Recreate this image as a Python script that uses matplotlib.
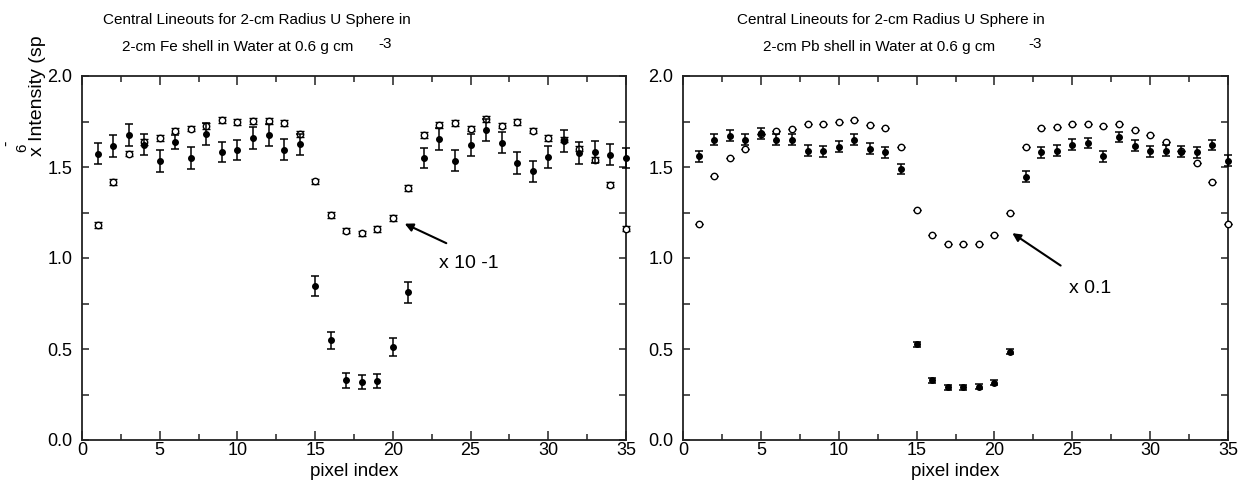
import numpy as np
import matplotlib
matplotlib.use("Agg")
import matplotlib.pyplot as plt
from matplotlib.ticker import MultipleLocator, FormatStrFormatter

plt.rcParams['font.family'] = ['Liberation Sans', 'DejaVu Sans']

pixel = np.arange(1, 36)

# Fe shell (left)
fe_filled = [1.574, 1.616, 1.678, 1.623, 1.535, 1.638, 1.55, 1.68, 1.583, 1.594,
             1.66, 1.676, 1.596, 1.625, 0.847, 0.548, 0.327, 0.318, 0.324, 0.511,
             0.811, 1.551, 1.653, 1.535, 1.62, 1.702, 1.634, 1.52, 1.476, 1.555,
             1.642, 1.577, 1.583, 1.568, 1.552]
fe_filled_err = [0.056, 0.06, 0.06, 0.059, 0.06, 0.04, 0.06, 0.06, 0.056, 0.055,
                 0.059, 0.059, 0.059, 0.059, 0.055, 0.046, 0.042, 0.04, 0.04, 0.048,
                 0.057, 0.056, 0.06, 0.056, 0.059, 0.06, 0.058, 0.06, 0.057, 0.058,
                 0.059, 0.06, 0.06, 0.059, 0.055]
fe_open = [1.182, 1.417, 1.574, 1.638, 1.66, 1.70, 1.711, 1.726, 1.757, 1.746,
           1.754, 1.752, 1.743, 1.682, 1.421, 1.237, 1.151, 1.136, 1.16, 1.219,
           1.384, 1.675, 1.73, 1.743, 1.711, 1.763, 1.728, 1.746, 1.70, 1.66,
           1.651, 1.601, 1.54, 1.403, 1.162]
fe_open_err = 0.015

# Pb shell (right)
pb_filled = [1.559, 1.649, 1.673, 1.649, 1.686, 1.649, 1.649, 1.59, 1.586, 1.612,
             1.649, 1.601, 1.581, 1.489, 0.526, 0.327, 0.29, 0.29, 0.292, 0.314,
             0.485, 1.447, 1.581, 1.59, 1.623, 1.632, 1.559, 1.665, 1.618, 1.586,
             1.59, 1.583, 1.581, 1.621, 1.535]
pb_filled_err = [0.03] * 14 + [0.013] * 7 + [0.03] * 14
pb_open = [1.189, 1.452, 1.548, 1.601, 1.684, 1.697, 1.71, 1.735, 1.739, 1.746,
           1.756, 1.733, 1.713, 1.61, 1.263, 1.129, 1.079, 1.075, 1.079, 1.129,
           1.248, 1.608, 1.717, 1.719, 1.739, 1.739, 1.724, 1.739, 1.704, 1.678,
           1.638, 1.59, 1.522, 1.415, 1.186]

W, H = 1241, 500


def fx(px):
    return px / W


def fy(py):
    return 1 - py / H


def style_axes(ax):
    ax.set_xlim(0, 35)
    ax.set_ylim(0, 2.0)
    ax.xaxis.set_major_locator(MultipleLocator(5))
    ax.xaxis.set_minor_locator(MultipleLocator(2.5))
    ax.yaxis.set_major_locator(MultipleLocator(0.5))
    ax.yaxis.set_minor_locator(MultipleLocator(0.25))
    ax.tick_params(which='both', direction='in', top=True, right=True,
                   width=1.1, color='#222222', labelsize=13)
    ax.tick_params(axis='x', which='major', length=6.5, pad=1.5)
    ax.tick_params(axis='x', which='minor', length=4.5)
    ax.tick_params(axis='y', which='both', length=5, pad=7)
    ax.yaxis.set_major_formatter(FormatStrFormatter('%.1f'))
    for s in ax.spines.values():
        s.set_linewidth(1.3)
        s.set_color('#222222')
    ax.set_xlabel('pixel index', fontsize=13.5, labelpad=3)


def draw_points(ax, filled, filled_err, opened, open_err):
    ax.errorbar(pixel, opened, yerr=open_err, fmt='o', ms=4.6, mfc='white',
                mec='black', mew=1.0, ecolor='black', elinewidth=0.9,
                capsize=2.6, capthick=1.0, clip_on=False, zorder=3)
    ax.errorbar(pixel, filled, yerr=filled_err, fmt='o', ms=4.0, mfc='black',
                mec='black', ecolor='black', elinewidth=1.1,
                capsize=3, capthick=1.1, clip_on=False, zorder=4)


fig = plt.figure(figsize=(W / 100, H / 100), dpi=100)
ax1 = fig.add_axes([fx(82), fy(440), fx(626) - fx(82), fy(76) - fy(440)])
ax2 = fig.add_axes([fx(683), fy(440), fx(1228) - fx(683), fy(76) - fy(440)])

draw_points(ax1, fe_filled, fe_filled_err, fe_open, fe_open_err)
draw_points(ax2, pb_filled, pb_filled_err, pb_open, 0)
style_axes(ax1)
style_axes(ax2)

ax1.annotate('', xy=(20.6, 1.195), xytext=(23.6, 1.075),
             arrowprops=dict(arrowstyle='-|>', color='black', lw=1.5,
                             mutation_scale=12))
ax1.text(23.0, 0.97, 'x 10 -1', fontsize=14, ha='left', va='center')
ax2.annotate('', xy=(21.0, 1.145), xytext=(24.4, 0.95),
             arrowprops=dict(arrowstyle='-|>', color='black', lw=1.5,
                             mutation_scale=12))
ax2.text(24.8, 0.835, 'x 0.1', fontsize=14, ha='left', va='center')

# titles
tkw = dict(fontsize=11, ha='left', va='center')
fig.text(fx(103), fy(20), 'Central Lineouts for 2-cm Radius U Sphere in', **tkw)
fig.text(fx(122), fy(47), '2-cm Fe shell in Water at 0.6 g cm', **tkw)
fig.text(fx(378), fy(44), '-3', **tkw)
fig.text(fx(737), fy(20), 'Central Lineouts for 2-cm Radius U Sphere in', **tkw)
fig.text(fx(763), fy(47), '2-cm Pb shell in Water at 0.6 g cm', **tkw)
fig.text(fx(1028), fy(44), '-3', **tkw)

# clipped y label
fig.text(fx(37), fy(156), 'x Intensity (sp', fontsize=14, rotation=90,
         ha='center', va='bottom')
fig.text(fx(22), fy(148), '6', fontsize=11, rotation=90,
         ha='center', va='center')
fig.text(fx(7), fy(143), '-', fontsize=12, rotation=90,
         ha='center', va='center')

fig.savefig('out.png', dpi=100)
